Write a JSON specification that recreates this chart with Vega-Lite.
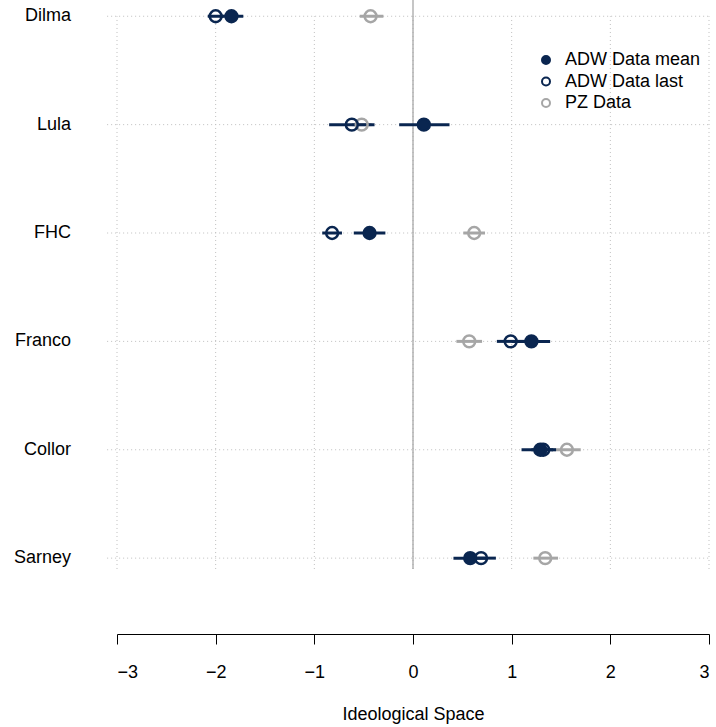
{
  "$schema": "https://vega.github.io/schema/vega-lite/v6.json",
  "width": 592,
  "height": 634,
  "autosize": {"type": "none"},
  "padding": {"left": 117, "top": 0, "right": 7, "bottom": 93},
  "background": "white",
  "config": {
    "font": "Liberation Sans",
    "view": {"stroke": null},
    "axis": {
      "domainColor": "black",
      "tickColor": "black",
      "labelColor": "black",
      "titleColor": "black",
      "labelFontSize": 18,
      "titleFontSize": 18,
      "titleFontWeight": "normal",
      "grid": false
    },
    "legend": {
      "labelFontSize": 18,
      "labelColor": "black",
      "padding": 0,
      "symbolSize": 64,
      "symbolStrokeWidth": 2,
      "labelOffset": 10,
      "rowPadding": 3.5
    }
  },
  "datasets": {
    "est": [
      {"leader": "Dilma", "row": 6, "series": "PZ Data", "est": -0.43, "lo": -0.54, "hi": -0.3},
      {"leader": "Lula", "row": 5, "series": "PZ Data", "est": -0.52, "lo": -0.62, "hi": -0.42},
      {"leader": "FHC", "row": 4, "series": "PZ Data", "est": 0.62, "lo": 0.51, "hi": 0.73},
      {"leader": "Franco", "row": 3, "series": "PZ Data", "est": 0.57, "lo": 0.44, "hi": 0.7},
      {"leader": "Collor", "row": 2, "series": "PZ Data", "est": 1.56, "lo": 1.41, "hi": 1.7},
      {"leader": "Sarney", "row": 1, "series": "PZ Data", "est": 1.34, "lo": 1.22, "hi": 1.47},
      {"leader": "Dilma", "row": 6, "series": "ADW Data mean", "est": -1.84, "lo": -1.96, "hi": -1.72},
      {"leader": "Lula", "row": 5, "series": "ADW Data mean", "est": 0.11, "lo": -0.14, "hi": 0.37},
      {"leader": "FHC", "row": 4, "series": "ADW Data mean", "est": -0.44, "lo": -0.6, "hi": -0.28},
      {"leader": "Franco", "row": 3, "series": "ADW Data mean", "est": 1.2, "lo": 1.0, "hi": 1.39},
      {"leader": "Collor", "row": 2, "series": "ADW Data mean", "est": 1.29, "lo": 1.1, "hi": 1.45},
      {"leader": "Sarney", "row": 1, "series": "ADW Data mean", "est": 0.58, "lo": 0.41, "hi": 0.75},
      {"leader": "Dilma", "row": 6, "series": "ADW Data last", "est": -2.0, "lo": -2.08, "hi": -1.92},
      {"leader": "Lula", "row": 5, "series": "ADW Data last", "est": -0.62, "lo": -0.85, "hi": -0.39},
      {"leader": "FHC", "row": 4, "series": "ADW Data last", "est": -0.82, "lo": -0.92, "hi": -0.72},
      {"leader": "Franco", "row": 3, "series": "ADW Data last", "est": 0.99, "lo": 0.85, "hi": 1.13},
      {"leader": "Collor", "row": 2, "series": "ADW Data last", "est": 1.32, "lo": 1.2, "hi": 1.42},
      {"leader": "Sarney", "row": 1, "series": "ADW Data last", "est": 0.69, "lo": 0.55, "hi": 0.84}
    ],
    "leaders": [
      {"leader": "Dilma", "row": 6},
      {"leader": "Lula", "row": 5},
      {"leader": "FHC", "row": 4},
      {"leader": "Franco", "row": 3},
      {"leader": "Collor", "row": 2},
      {"leader": "Sarney", "row": 1}
    ],
    "ticks": [{"v": -3}, {"v": -2}, {"v": -1}, {"v": 0}, {"v": 1}, {"v": 2}, {"v": 3}],
    "zero": [{"v": 0}]
  },
  "layer": [
    {
      "data": {"name": "ticks"},
      "mark": {"type": "rule", "color": "#bfbfbf", "strokeWidth": 1, "strokeDash": [1, 3]},
      "encoding": {
        "x": {
          "field": "v", "type": "quantitative",
          "scale": {"domain": [-3, 3], "nice": false, "zero": false},
          "axis": {
            "values": [-3, -2, -1, 0, 1, 2, 3],
            "format": "d",
            "title": "Ideological Space",
            "tickSize": 10,
            "labelPadding": 19,
            "titlePadding": 24,
            "domainWidth": 1,
            "tickWidth": 1
          }
        },
        "y": {"datum": 0.9, "type": "quantitative", "scale": {"domain": [0.3, 6.15], "nice": false, "zero": false}, "axis": null},
        "y2": {"datum": 6}
      }
    },
    {
      "data": {"name": "leaders"},
      "mark": {"type": "rule", "color": "#bfbfbf", "strokeWidth": 1, "strokeDash": [1, 3]},
      "encoding": {
        "x": {"datum": -3.1, "type": "quantitative", "scale": {"domain": [-3, 3], "nice": false, "zero": false}},
        "x2": {"datum": 3.0},
        "y": {"field": "row", "type": "quantitative", "scale": {"domain": [0.3, 6.15], "nice": false, "zero": false}, "axis": null}
      }
    },
    {
      "data": {"name": "zero"},
      "mark": {"type": "rule", "color": "#a0a0a0", "strokeWidth": 1.2},
      "encoding": {
        "x": {"field": "v", "type": "quantitative", "scale": {"domain": [-3, 3], "nice": false, "zero": false}},
        "y": {"datum": 0.9, "type": "quantitative", "scale": {"domain": [0.3, 6.15], "nice": false, "zero": false}, "axis": null},
        "y2": {"datum": 6.15}
      }
    },
    {
      "data": {"name": "est"},
      "transform": [{"filter": "datum.series === 'PZ Data'"}],
      "mark": {"type": "rule", "color": "#a6a6a6", "strokeWidth": 3},
      "encoding": {
        "x": {"field": "lo", "type": "quantitative", "scale": {"domain": [-3, 3], "nice": false, "zero": false}},
        "x2": {"field": "hi"},
        "y": {"field": "row", "type": "quantitative", "scale": {"domain": [0.3, 6.15], "nice": false, "zero": false}, "axis": null}
      }
    },
    {
      "data": {"name": "est"},
      "transform": [{"filter": "datum.series !== 'PZ Data'"}],
      "mark": {"type": "rule", "color": "#0a2650", "strokeWidth": 3},
      "encoding": {
        "x": {"field": "lo", "type": "quantitative", "scale": {"domain": [-3, 3], "nice": false, "zero": false}},
        "x2": {"field": "hi"},
        "y": {"field": "row", "type": "quantitative", "scale": {"domain": [0.3, 6.15], "nice": false, "zero": false}, "axis": null}
      }
    },
    {
      "data": {"name": "est"},
      "mark": {"type": "point", "shape": "circle", "size": 140, "strokeWidth": 2.5, "opacity": 1, "filled": false},
      "encoding": {
        "x": {"field": "est", "type": "quantitative", "scale": {"domain": [-3, 3], "nice": false, "zero": false}},
        "y": {"field": "row", "type": "quantitative", "scale": {"domain": [0.3, 6.15], "nice": false, "zero": false}, "axis": null},
        "fill": {
          "field": "series", "type": "nominal",
          "scale": {"domain": ["ADW Data mean", "ADW Data last", "PZ Data"], "range": ["#0a2650", "transparent", "transparent"]},
          "legend": {"title": null, "orient": "none", "legendX": 420, "legendY": 51}
        },
        "stroke": {
          "field": "series", "type": "nominal",
          "scale": {"domain": ["ADW Data mean", "ADW Data last", "PZ Data"], "range": ["#0a2650", "#0a2650", "#a6a6a6"]},
          "legend": {"title": null, "orient": "none", "legendX": 420, "legendY": 51}
        }
      }
    },
    {
      "data": {"name": "leaders"},
      "mark": {"type": "text", "align": "right", "baseline": "middle", "dx": -46, "fontSize": 18, "color": "black"},
      "encoding": {
        "x": {"datum": -3, "type": "quantitative", "scale": {"domain": [-3, 3], "nice": false, "zero": false}},
        "y": {"field": "row", "type": "quantitative", "scale": {"domain": [0.3, 6.15], "nice": false, "zero": false}, "axis": null},
        "text": {"field": "leader"}
      }
    }
  ]
}
